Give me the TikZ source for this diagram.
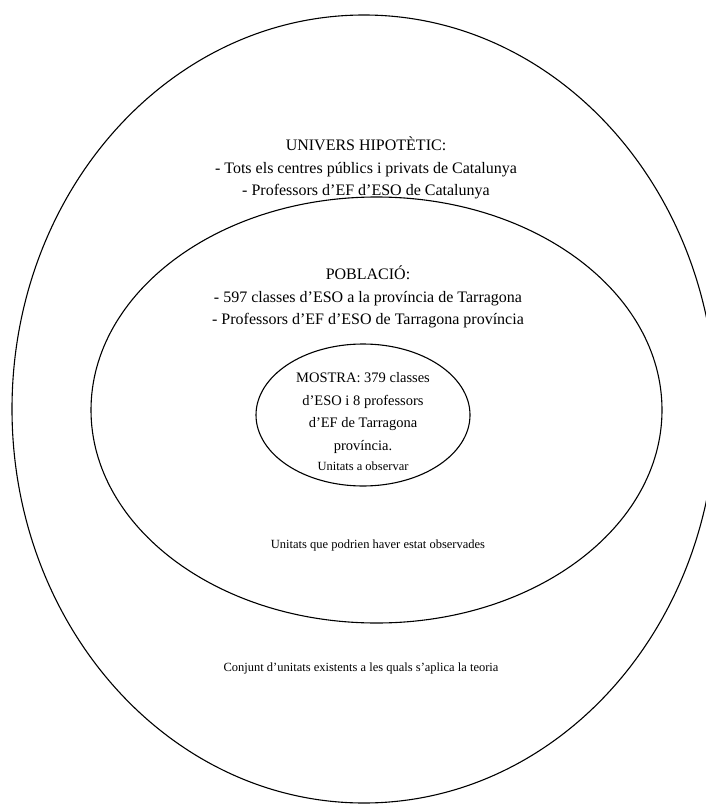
\documentclass[tikz,border=0pt]{standalone}
\usepackage{fontspec}
\setmainfont{Liberation Serif}
\tikzset{
  ring/.style={draw=black, line width=1.1pt},
  bigtxt/.style={align=center, font=\fontsize{16}{22.5}\selectfont, inner sep=0pt},
  midtxt/.style={align=center, font=\fontsize{14.5}{22.5}\selectfont, inner sep=0pt},
  smalltxt/.style={align=center, font=\fontsize{12.5}{14}\selectfont, inner sep=0pt}
}
\begin{document}
\begin{tikzpicture}[x=1pt,y=-1pt]
\useasboundingbox (0,0) rectangle (706,805);
\fill[white] (0,0) rectangle (706,805);
\draw[ring] (364,409) ellipse [x radius=352, y radius=394];
\draw[ring] (376.5,410) ellipse [x radius=285.5, y radius=213];
\draw[ring] (363,415) ellipse [x radius=107, y radius=71];
\node[bigtxt] (univ) at (366,168) {UNIVERS HIPOTÈTIC:\\- Tots els centres públics i privats de Catalunya\\- Professors d'EF d'ESO de Catalunya};
\node[bigtxt] (pob) at (368,297) {POBLACIÓ:\\- 597 classes d'ESO a la província de Tarragona\\- Professors d'EF d'ESO de Tarragona província};
\node[midtxt] (mostra) at (363,413) {MOSTRA: 379 classes\\d'ESO i 8 professors\\d'EF de Tarragona\\província.};
\node[smalltxt] (obs) at (363,466) {Unitats a observar};
\node[smalltxt] (pod) at (378,545) {Unitats que podrien haver estat observades};
\node[smalltxt] (conj) at (361,668) {Conjunt d'unitats existents a les quals s'aplica la teoria};
\end{tikzpicture}
\end{document}
